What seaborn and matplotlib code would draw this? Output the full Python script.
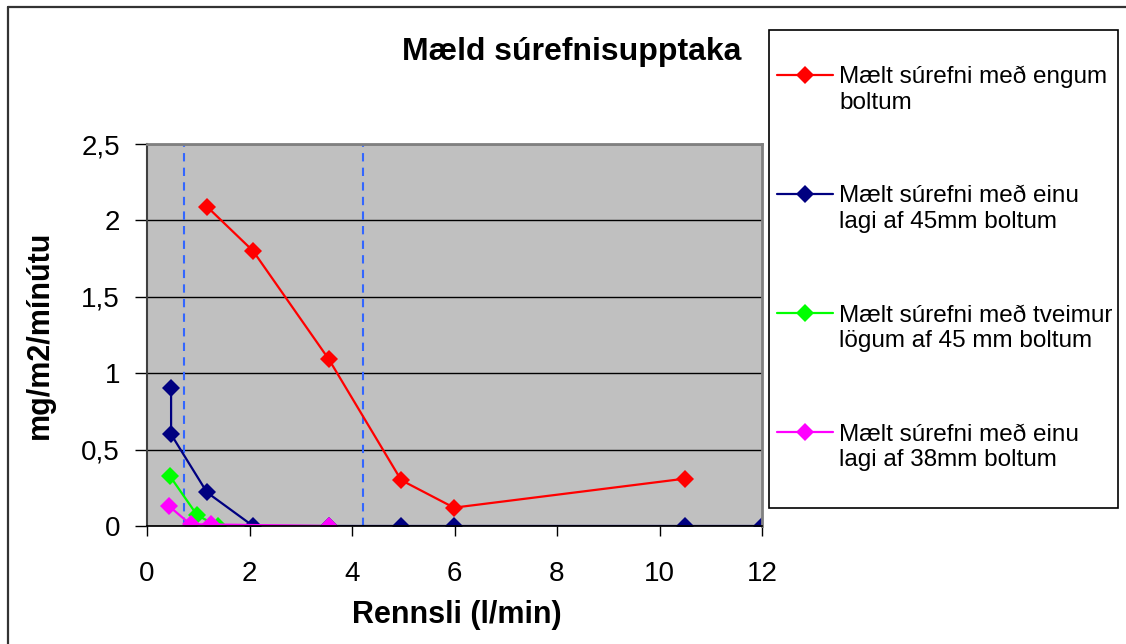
import pandas as pd
import matplotlib.pyplot as plt
import seaborn as sns
from matplotlib.patches import Rectangle
from matplotlib.lines import Line2D

# Values
red_x = [1.17, 2.07, 3.55, 4.96, 5.99, 10.5]
red_y = [2.09, 1.80, 1.09, 0.30, 0.12, 0.31]
navy_x = [0.47, 0.47, 1.17, 2.07, 3.55, 4.96, 5.99, 10.5, 12.0]
navy_y = [0.90, 0.60, 0.22, 0.0, 0.0, 0.0, 0.0, 0.0, 0.0]
green_x = [0.44, 0.98, 1.38]
green_y = [0.33, 0.07, 0.0]
pink_x = [0.43, 0.85, 1.25, 3.56]
pink_y = [0.13, 0.01, 0.01, 0.0]

series_names = [
    "Mælt súrefni með engum\nboltum",
    "Mælt súrefni með einu\nlagi af 45mm boltum",
    "Mælt súrefni með tveimur\nlögum af 45 mm boltum",
    "Mælt súrefni með einu\nlagi af 38mm boltum",
]
series_colors = ["#FF0000", "#000080", "#00FF00", "#FF00FF"]
dashed_x = [0.73, 4.22]

x_ticks = [0, 2, 4, 6, 8, 10, 12]
y_ticks = [0, 0.5, 1, 1.5, 2, 2.5]
y_tick_labels = ["0", "0,5", "1", "1,5", "2", "2,5"]

frames = []
for name, xs, ys in zip(series_names,
                        [red_x, navy_x, green_x, pink_x],
                        [red_y, navy_y, green_y, pink_y]):
    frames.append(pd.DataFrame({"x": xs, "y": ys, "series": name}))
df = pd.concat(frames, ignore_index=True)

sns.set_theme(style="white")
plt.rcParams["font.family"] = ["Liberation Sans", "DejaVu Sans"]
plt.rcParams.update({"text.color": "black", "axes.labelcolor": "black",
                     "xtick.color": "black", "ytick.color": "black"})

fig = plt.figure(figsize=(11.26, 6.44), dpi=100)
ax = fig.add_axes([147 / 1126, 1 - 526 / 644, 615 / 1126, 382 / 644])
ax.set_facecolor("#C0C0C0")

sns.lineplot(data=df, x="x", y="y", hue="series", hue_order=series_names,
             palette=dict(zip(series_names, series_colors)),
             estimator=None, sort=False, marker="D", markersize=9,
             markeredgewidth=0, linewidth=1.6, ax=ax, legend=False)

for xv in dashed_x:
    ax.axvline(xv, color="#3366FF", linestyle=(0, (4, 3)), linewidth=1.5, zorder=1)

ax.set_xlim(0, 12)
ax.set_ylim(0, 2.5)
ax.set_xticks(x_ticks)
ax.set_yticks(y_ticks)
ax.set_yticklabels(y_tick_labels)
ax.yaxis.grid(True, color="black", linewidth=1)
ax.set_axisbelow(True)
ax.tick_params(axis="x", direction="out", length=7, width=1, pad=18, labelsize=20, bottom=True)
ax.tick_params(axis="y", direction="out", length=8.5, width=1, pad=11, labelsize=20, left=True)
ax.set_xlabel("")
ax.set_ylabel("")

ax.spines["left"].set_color("#404040")
ax.spines["left"].set_linewidth(1.5)
ax.spines["bottom"].set_color("black")
for side in ["top", "right"]:
    ax.spines[side].set_color("#808080")
    ax.spines[side].set_linewidth(2)

fig.text(572 / 1126, 1 - 52 / 644, "Mæld súrefnisupptaka", ha="center", va="center",
         fontsize=23, fontweight="bold")
fig.text(457 / 1126, 1 - 615 / 644, "Rennsli (l/min)", ha="center", va="center",
         fontsize=22, fontweight="bold")
fig.text(40 / 1126, 1 - 335 / 644, "mg/m2/mínútu", ha="center", va="center",
         rotation=90, fontsize=22, fontweight="bold")

# legend box and entries
fig.patches.append(Rectangle((769 / 1126, 1 - 508 / 644), 349 / 1126, 478 / 644,
                             transform=fig.transFigure, fill=False,
                             edgecolor="black", linewidth=1.2))
handles = ax.lines[:4]
leg = fig.legend(handles, series_names, loc="upper left",
                 bbox_to_anchor=(777 / 1126, 1 - 66 / 644),
                 frameon=False, fontsize=17.5, handlelength=2.3, handletextpad=0.25,
                 labelspacing=2.95, borderpad=0, borderaxespad=0)
for col in leg._legend_handle_box.get_children():
    for item in col.get_children():
        item.align = "top"

# chart border, top and left only
fig.add_artist(Line2D([8 / 1126, 1], [1 - 7 / 644] * 2, transform=fig.transFigure,
                      color="#333333", linewidth=1.6))
fig.add_artist(Line2D([8 / 1126] * 2, [0, 1 - 7 / 644], transform=fig.transFigure,
                      color="#333333", linewidth=1.6))

fig.savefig("out.png", dpi=100)
